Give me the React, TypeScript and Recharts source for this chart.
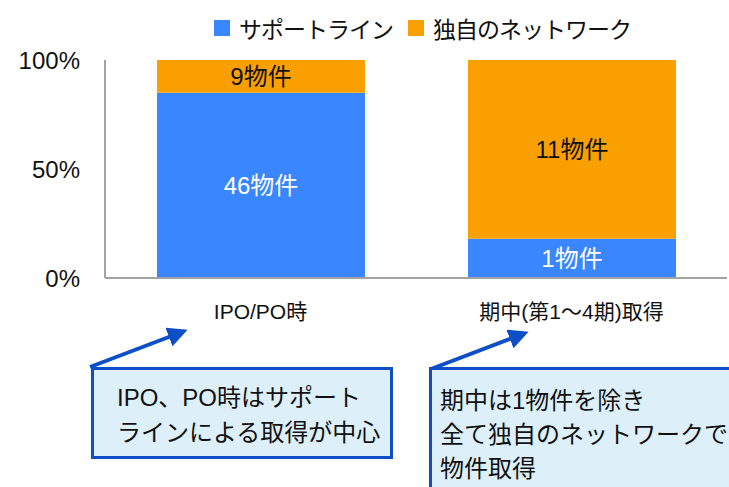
import { BarChart, Bar, XAxis, YAxis, LabelList } from "recharts";

const categories = ["IPO/PO時", "期中(第1～4期)取得"];
const seriesNames = ["サポートライン", "独自のネットワーク"];
// bar heights as drawn (percent of total)
const supportPct = [85, 18];
const networkPct = [15, 82];
// property counts shown inside the bars
const supportCount = [46, 1];
const networkCount = [9, 11];
const yTicks = [0, 50, 100];

const BLUE = "#3A86FF";
const ORANGE = "#F9A000";
const NAVY = "#0C4FC6";
const AXIS = "#A3A3A3";
const JP = "'Noto Sans CJK JP', sans-serif";
const MIX = "'Liberation Sans', 'Noto Sans CJK JP', sans-serif";

const data = categories.map((name, i) => ({
  name,
  support: supportPct[i],
  network: networkPct[i],
  supportCount: supportCount[i],
  networkCount: networkCount[i],
}));

const XTick = (props: any) => {
  const { x, y, payload } = props;
  return (
    <text x={x} y={y + 33} textAnchor="middle" dominantBaseline="central" fontSize={21} fontFamily={MIX} fill="#111">
      {payload.value}
    </text>
  );
};

const Legendish = () => (
  <div style={{ position: "absolute", left: 214, top: 11, display: "flex", alignItems: "center", fontFamily: JP, fontSize: 23, color: "#111" }}>
    {seriesNames.map((n, i) => (
      <div key={n} style={{ display: "flex", alignItems: "center", marginRight: 15 }}>
        <div style={{ width: 16, height: 16, background: i === 0 ? BLUE : ORANGE, marginRight: 9 }} />
        <span style={{ letterSpacing: -1 }}>{n}</span>
      </div>
    ))}
  </div>
);

export default function App() {
  return (
    <div style={{ position: "absolute", left: 0, top: 0, width: 729, height: 487, overflow: "hidden", background: "#fff" }}>
      <BarChart
        width={729}
        height={487}
        data={data}
        margin={{ top: 60, right: 2, left: 0, bottom: 179 }}
        barSize={208}
      >
        <XAxis
          dataKey="name"
          height={30}
          axisLine={{ stroke: AXIS, strokeWidth: 2 }}
          tickLine={false}
          tickSize={0}
          tickMargin={0}
          tick={<XTick />}
          interval={0}
        />
        <YAxis
          width={105}
          domain={[0, 100]}
          ticks={yTicks}
          tickFormatter={(v: number) => `${v}%`}
          axisLine={{ stroke: AXIS, strokeWidth: 2 }}
          tickLine={false}
          tickSize={6}
          tickMargin={19}
          tick={{ fontSize: 24, fill: "#111", fontFamily: MIX }}
        />
        <Bar dataKey="support" stackId="a" fill={BLUE} isAnimationActive={false}>
          <LabelList
            dataKey="supportCount"
            position="center"
            formatter={(v: any) => `${v}物件`}
            fill="#fff"
            fontSize={24}
            fontFamily={MIX}
          />
        </Bar>
        <Bar dataKey="network" stackId="a" fill={ORANGE} isAnimationActive={false}>
          <LabelList
            dataKey="networkCount"
            position="center"
            formatter={(v: any) => `${v}物件`}
            fill="#111"
            fontSize={24}
            fontFamily={MIX}
          />
        </Bar>
      </BarChart>

      <Legendish />

      <svg width={729} height={487} style={{ position: "absolute", left: 0, top: 0, pointerEvents: "none" }}>
        <defs>
          <marker id="arr" markerWidth="5" markerHeight="5" refX="3.5" refY="2.5" orient="auto" markerUnits="strokeWidth">
            <path d="M0,0 L5,2.5 L0,5 Z" fill={NAVY} />
          </marker>
        </defs>
        <line x1={90} y1={367} x2={182} y2={332} stroke={NAVY} strokeWidth={4} markerEnd="url(#arr)" />
        <line x1={431} y1={369} x2={523} y2={334} stroke={NAVY} strokeWidth={4} markerEnd="url(#arr)" />
      </svg>

      <div
        style={{
          position: "absolute",
          left: 91,
          top: 367,
          width: 302,
          height: 92,
          boxSizing: "border-box",
          border: `3px solid ${NAVY}`,
          background: "#DDF0FA",
          padding: "10px 0 0 23px",
          fontFamily: MIX,
          fontSize: 24,
          lineHeight: "35px",
          color: "#111",
          whiteSpace: "nowrap",
        }}
      >
        <div>IPO、PO時はサポート</div>
        <div>ラインによる取得が中心</div>
      </div>

      <div
        style={{
          position: "absolute",
          left: 429,
          top: 367,
          width: 320,
          height: 140,
          boxSizing: "border-box",
          border: `3px solid ${NAVY}`,
          background: "#DDF0FA",
          padding: "14px 0 0 8px",
          fontFamily: MIX,
          fontSize: 24,
          lineHeight: "34px",
          color: "#111",
          whiteSpace: "nowrap",
        }}
      >
        <div>期中は1物件を除き</div>
        <div>全て独自のネットワークで</div>
        <div>物件取得</div>
      </div>
    </div>
  );
}
